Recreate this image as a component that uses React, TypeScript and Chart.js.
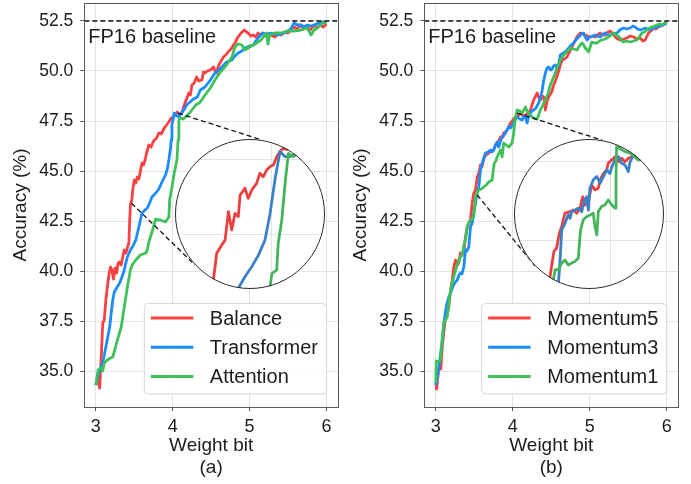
import React, { useEffect, useRef } from 'react';
import { Chart, registerables } from 'chart.js';

Chart.register(...registerables);

type Pt = [number, number];

const FONT = '"Liberation Sans", Arial, Helvetica, sans-serif';
const INK = '#1e1b1c';

// ---------- axes / labels ----------
const xTickValues = [3, 4, 5, 6];
const yTickValues = [35, 37.5, 40, 42.5, 45, 47.5, 50, 52.5];
const X_MIN = 2.85;
const X_MAX = 6.15;
const Y_MIN = 33.2;
const Y_MAX = 53.4;
const baselineValue = 52.5;
const baselineLabel = 'FP16 baseline';
const xTitle = 'Weight bit';
const yTitle = 'Accuracy (%)';
const labelsA = ['Balance', 'Transformer', 'Attention'];
const labelsB = ['Momentum5', 'Momentum3', 'Momentum1'];
const captionA = '(a)';
const captionB = '(b)';

const lineColors = ['#f94141', '#1b8cfb', '#3fc15a'];
const insetColors = ['#ea4140', '#3b7fc7', '#46b55a'];

// ---------- panel (a) ----------
const balance: Pt[] = [
  [3.0, 34.3], [3.03, 34.6], [3.05, 34.15], [3.064, 35.2], [3.08, 36.5], [3.09, 37.4], [3.11, 37.55], [3.13, 38.55],
  [3.15, 39.2], [3.17, 39.8], [3.19, 40.2], [3.21, 40.05], [3.23, 39.6], [3.25, 40.15], [3.27, 39.9], [3.29, 40.4],
  [3.31, 40.45], [3.33, 40.3], [3.35, 40.7], [3.37, 41.05], [3.39, 40.9], [3.41, 41.15], [3.43, 41.4], [3.44, 42.5],
  [3.45, 43.3], [3.47, 43.6], [3.48, 44.05], [3.5, 44.55], [3.52, 44.4], [3.54, 44.7], [3.56, 44.6], [3.575, 44.9],
  [3.6, 45.4], [3.62, 45.3], [3.64, 45.55], [3.66, 45.9], [3.69, 46.3], [3.72, 46.2], [3.75, 46.5], [3.79, 46.65],
  [3.82, 46.9], [3.85, 46.85], [3.89, 47.15], [3.92, 47.3], [3.95, 47.45], [3.98, 47.65], [4.01, 47.7], [4.06, 47.95],
  [4.09, 47.8], [4.12, 47.9], [4.15, 48.3], [4.18, 48.6], [4.21, 48.9], [4.23, 48.8], [4.25, 49.3], [4.28, 49.4],
  [4.31, 49.7], [4.34, 49.5], [4.38, 49.55], [4.4, 49.95], [4.42, 49.9], [4.45, 50.0], [4.49, 50.05], [4.53, 50.2],
  [4.555, 49.95], [4.57, 49.9], [4.6, 50.3], [4.63, 50.5], [4.66, 50.7], [4.69, 50.8], [4.72, 50.95], [4.76, 51.1],
  [4.79, 51.3], [4.81, 51.4], [4.85, 51.7], [4.89, 51.9], [4.93, 52.05], [4.96, 51.95], [4.98, 51.9], [5.02, 51.75],
  [5.05, 51.8], [5.08, 51.7], [5.11, 51.9], [5.14, 51.8], [5.17, 51.9], [5.2, 51.75], [5.24, 51.7], [5.28, 51.8],
  [5.33, 51.7], [5.37, 51.85], [5.41, 51.8], [5.45, 51.95], [5.5, 51.9], [5.54, 52.05], [5.58, 52.2], [5.62, 52.1],
  [5.66, 52.3], [5.7, 52.1], [5.75, 52.2], [5.79, 52.05], [5.84, 52.3], [5.88, 52.15], [5.92, 52.3], [5.96, 52.2],
  [6.0, 52.35],
];
const transformer: Pt[] = [
  [3.0, 34.3], [3.03, 34.8], [3.05, 35.0], [3.07, 35.2], [3.09, 35.4], [3.11, 35.8], [3.13, 36.2], [3.155, 36.7],
  [3.18, 37.2], [3.2, 37.9], [3.22, 38.55], [3.24, 38.95], [3.27, 39.15], [3.31, 39.4], [3.34, 39.7], [3.37, 40.05],
  [3.39, 40.4], [3.41, 40.7], [3.45, 41.05], [3.49, 41.3], [3.52, 41.55], [3.56, 42.2], [3.6, 42.9], [3.64, 43.05],
  [3.67, 43.15], [3.7, 43.4], [3.73, 43.7], [3.78, 43.9], [3.82, 44.1], [3.86, 44.45], [3.905, 44.8], [3.93, 45.1],
  [3.95, 45.55], [3.97, 46.1], [3.98, 46.55], [3.99, 47.3], [4.02, 47.9], [4.04, 47.8], [4.08, 47.7], [4.11, 47.9],
  [4.145, 48.05], [4.18, 48.3], [4.21, 48.4], [4.24, 48.5], [4.27, 48.6], [4.32, 48.7], [4.36, 49.05], [4.42, 49.2],
  [4.46, 49.4], [4.49, 49.55], [4.55, 49.9], [4.6, 50.05], [4.64, 50.2], [4.7, 50.45], [4.77, 50.55], [4.81, 50.75],
  [4.85, 50.9], [4.9, 51.0], [4.94, 51.15], [5.0, 51.25], [5.05, 51.3], [5.08, 51.5], [5.11, 51.65], [5.17, 51.9],
  [5.22, 51.85], [5.28, 51.9], [5.33, 51.85], [5.37, 51.8], [5.41, 51.85], [5.45, 51.9], [5.52, 52.05], [5.55, 52.2],
  [5.58, 52.4], [5.62, 52.3], [5.67, 52.3], [5.71, 52.2], [5.75, 52.3], [5.8, 52.25], [5.84, 52.3], [5.9, 52.4],
  [5.95, 52.45], [6.0, 52.4],
];
const attention: Pt[] = [
  [3.0, 34.3], [3.03, 35.05], [3.05, 35.1], [3.07, 35.15], [3.09, 35.0], [3.11, 35.4], [3.15, 35.55], [3.19, 35.65],
  [3.22, 35.7], [3.25, 36.1], [3.28, 36.55], [3.33, 37.2], [3.37, 38.2], [3.41, 39.2], [3.45, 40.05], [3.48, 40.35],
  [3.52, 40.55], [3.58, 40.8], [3.65, 40.9], [3.67, 41.05], [3.69, 41.45], [3.73, 41.95], [3.78, 42.6], [3.81, 42.55],
  [3.84, 42.55], [3.905, 42.45], [3.95, 42.7], [3.96, 43.55], [3.99, 44.2], [4.02, 44.9], [4.055, 45.55], [4.07, 46.55],
  [4.08, 47.55], [4.1, 47.65], [4.13, 47.6], [4.17, 47.7], [4.23, 47.95], [4.3, 48.3], [4.36, 48.45], [4.42, 48.8],
  [4.49, 49.15], [4.55, 49.55], [4.62, 49.95], [4.7, 50.3], [4.77, 50.7], [4.81, 51.2], [4.85, 51.35], [4.9, 51.3],
  [4.94, 51.05], [5.0, 51.2], [5.07, 51.35], [5.15, 51.55], [5.22, 51.9], [5.24, 51.35], [5.26, 51.8], [5.33, 51.9],
  [5.41, 51.9], [5.5, 52.0], [5.58, 52.0], [5.67, 52.05], [5.75, 52.15], [5.8, 51.8], [5.84, 52.05], [5.88, 52.15],
  [5.925, 52.3], [5.97, 52.45], [6.0, 52.4],
];

// zoomed-in (circular inset) curves of panel (a)
const insetBalance: Pt[] = [
  [3.794, 43.07], [3.805, 43.47], [3.816, 44.36], [3.833, 44.64], [3.844, 44.8], [3.855, 45.75], [3.866, 45.14],
  [3.877, 45.69], [3.888, 45.58], [3.894, 46.3], [3.91, 46.53], [3.921, 46.19], [3.933, 46.47], [3.949, 46.69],
  [3.96, 47.03], [3.971, 46.91], [3.983, 47.14], [3.994, 47.25], [4.005, 47.3], [4.016, 47.58], [4.027, 47.75],
  [4.038, 47.86], [4.05, 47.82], [4.06, 47.88], [4.075, 47.9], [4.1, 48.0], [4.15, 48.3],
];
const insetTransformer: Pt[] = [
  [3.874, 42.94], [3.888, 43.19], [3.91, 43.58], [3.933, 43.91], [3.955, 44.3], [3.977, 44.8], [3.994, 45.69],
  [4.01, 46.8], [4.027, 47.75], [4.044, 47.58], [4.06, 47.58], [4.071, 47.64], [4.094, 47.74], [4.15, 48.0],
];
const insetAttention: Pt[] = [
  [3.99, 42.94], [3.994, 43.25], [4.0, 43.69], [4.016, 43.8], [4.021, 44.69], [4.033, 45.47], [4.044, 46.69],
  [4.05, 47.25], [4.055, 47.69], [4.071, 47.58], [4.094, 47.74], [4.15, 48.0],
];

// ---------- panel (b) ----------
const momentum5: Pt[] = [
  [3.0, 34.4], [3.01, 34.1], [3.04, 35.2], [3.065, 35.1], [3.083, 36.2], [3.105, 37.0], [3.126, 37.7], [3.15, 37.9],
  [3.169, 38.2], [3.19, 39.0], [3.213, 39.55], [3.233, 40.2], [3.256, 40.55], [3.28, 40.3], [3.298, 40.4], [3.32, 40.9],
  [3.34, 40.8], [3.363, 40.95], [3.385, 41.7], [3.407, 42.2], [3.43, 42.4], [3.45, 42.55], [3.472, 43.4], [3.493, 43.9],
  [3.515, 44.05], [3.537, 44.7], [3.558, 44.9], [3.58, 45.3], [3.6, 45.2], [3.623, 45.65], [3.65, 45.8], [3.687, 45.9],
  [3.72, 46.0], [3.752, 46.05], [3.775, 46.3], [3.796, 46.4], [3.82, 46.5], [3.839, 46.7], [3.86, 46.65], [3.882, 46.9],
  [3.905, 46.95], [3.926, 47.05], [3.95, 47.25], [3.969, 47.4], [4.0, 47.55], [4.034, 47.7], [4.065, 47.75], [4.099, 47.9],
  [4.13, 47.75], [4.164, 47.8], [4.2, 47.9], [4.228, 48.05], [4.25, 48.3], [4.271, 48.55], [4.29, 48.7], [4.315, 48.9],
  [4.335, 48.7], [4.358, 48.55], [4.38, 48.75], [4.401, 48.7], [4.423, 48.05], [4.445, 48.5], [4.466, 48.7], [4.49, 48.85],
  [4.51, 49.0], [4.53, 49.3], [4.553, 49.5], [4.575, 49.75], [4.595, 50.0], [4.617, 50.3], [4.64, 50.55], [4.67, 50.6],
  [4.704, 50.7], [4.735, 50.95], [4.769, 51.2], [4.8, 51.45], [4.834, 51.7], [4.855, 51.8], [4.877, 51.9], [4.91, 51.85],
  [4.942, 51.8], [4.975, 51.75], [5.006, 51.7], [5.04, 51.75], [5.071, 51.7], [5.1, 51.8], [5.136, 51.9], [5.17, 51.8],
  [5.201, 51.8], [5.235, 51.95], [5.266, 52.0], [5.3, 51.85], [5.331, 51.7], [5.36, 51.6], [5.395, 51.55], [5.44, 51.6],
  [5.482, 51.65], [5.525, 51.75], [5.568, 51.7], [5.61, 51.6], [5.655, 51.65], [5.69, 51.5], [5.72, 51.55], [5.763, 51.9],
  [5.795, 52.0], [5.828, 52.15], [5.86, 52.1], [5.892, 52.2], [5.925, 52.25], [5.957, 52.3], [6.0, 52.45],
];
const momentum3: Pt[] = [
  [3.0, 34.3], [3.02, 34.7], [3.04, 35.2], [3.06, 35.8], [3.08, 36.4], [3.1, 37.2], [3.12, 37.8], [3.14, 38.3],
  [3.169, 38.7], [3.2, 39.0], [3.23, 39.3], [3.255, 39.45], [3.278, 39.55], [3.3, 39.8], [3.32, 39.9], [3.34, 39.85],
  [3.363, 40.2], [3.385, 41.05], [3.405, 41.0], [3.428, 41.2], [3.45, 42.2], [3.472, 42.4], [3.493, 42.9], [3.515, 43.4],
  [3.537, 43.9], [3.558, 44.2], [3.58, 45.05], [3.602, 45.4], [3.623, 45.6], [3.645, 45.9], [3.68, 45.95], [3.71, 46.05],
  [3.73, 45.95], [3.752, 46.05], [3.775, 46.3], [3.796, 46.45], [3.817, 46.2], [3.84, 46.5], [3.861, 46.7], [3.88, 46.75],
  [3.904, 46.9], [3.925, 47.05], [3.947, 47.2], [3.97, 47.15], [3.991, 47.3], [4.02, 47.5], [4.056, 47.7], [4.09, 47.6],
  [4.121, 47.55], [4.145, 47.75], [4.164, 47.7], [4.186, 47.4], [4.205, 47.75], [4.228, 47.9], [4.25, 48.0], [4.271, 48.05],
  [4.3, 48.15], [4.336, 48.4], [4.36, 48.7], [4.38, 49.0], [4.4, 49.5], [4.423, 49.9], [4.445, 50.15], [4.466, 50.2],
  [4.49, 50.05], [4.51, 50.1], [4.53, 50.25], [4.553, 50.3], [4.575, 50.2], [4.595, 50.25], [4.617, 50.8], [4.66, 50.9],
  [4.704, 51.05], [4.745, 51.25], [4.79, 51.4], [4.82, 51.55], [4.855, 51.7], [4.89, 51.85], [4.92, 51.9], [4.94, 51.7],
  [4.964, 51.55], [4.985, 51.65], [5.006, 51.7], [5.04, 51.75], [5.071, 51.8], [5.1, 51.75], [5.136, 51.7], [5.17, 51.85],
  [5.201, 51.9], [5.235, 51.8], [5.266, 51.8], [5.31, 51.85], [5.353, 51.9], [5.39, 52.05], [5.438, 52.15], [5.48, 52.1],
  [5.525, 52.15], [5.56, 52.25], [5.59, 52.2], [5.62, 52.1], [5.655, 52.05], [5.69, 52.1], [5.72, 52.15], [5.75, 52.1],
  [5.785, 52.05], [5.83, 52.15], [5.872, 52.2], [5.91, 52.25], [5.95, 52.3], [6.0, 52.4],
];
const momentum1: Pt[] = [
  [3.0, 34.4], [3.005, 35.5], [3.03, 35.45], [3.06, 35.55], [3.08, 36.5], [3.104, 37.4], [3.125, 37.55], [3.148, 37.7],
  [3.17, 38.4], [3.191, 39.05], [3.21, 39.4], [3.233, 39.7], [3.26, 40.1], [3.298, 40.55], [3.32, 40.7], [3.342, 40.8],
  [3.365, 41.3], [3.385, 41.55], [3.407, 42.2], [3.43, 42.45], [3.45, 42.55], [3.47, 42.6], [3.493, 42.7], [3.515, 43.7],
  [3.535, 43.9], [3.558, 44.05], [3.59, 44.1], [3.623, 44.2], [3.655, 44.3], [3.687, 44.45], [3.71, 44.5], [3.731, 44.55],
  [3.745, 45.0], [3.76, 45.4], [3.78, 45.5], [3.796, 45.7], [3.82, 45.9], [3.839, 46.05], [3.861, 45.7], [3.882, 46.4],
  [3.915, 46.3], [3.947, 46.2], [3.97, 46.3], [3.991, 46.4], [4.012, 46.9], [4.03, 47.6], [4.056, 48.05], [4.09, 48.0],
  [4.121, 47.9], [4.145, 48.05], [4.164, 48.2], [4.186, 48.0], [4.206, 47.9], [4.23, 47.8], [4.25, 47.7], [4.28, 47.65],
  [4.315, 47.6], [4.335, 47.8], [4.358, 48.05], [4.39, 48.3], [4.423, 48.55], [4.455, 48.85], [4.488, 49.3], [4.52, 49.6],
  [4.553, 49.9], [4.575, 50.2], [4.61, 50.5], [4.66, 50.8], [4.7, 50.95], [4.747, 51.15], [4.79, 51.1], [4.834, 51.05],
  [4.865, 51.25], [4.899, 51.4], [4.92, 51.3], [4.942, 51.15], [4.964, 51.05], [4.984, 50.95], [5.005, 51.2], [5.028, 51.45],
  [5.06, 51.4], [5.093, 51.4], [5.125, 51.5], [5.158, 51.55], [5.2, 51.6], [5.244, 51.7], [5.275, 51.8], [5.309, 51.9],
  [5.35, 51.8], [5.395, 51.65], [5.418, 51.5], [5.438, 51.45], [5.48, 51.5], [5.525, 51.45], [5.57, 51.5], [5.612, 51.55],
  [5.645, 51.7], [5.677, 51.9], [5.71, 51.95], [5.742, 52.05], [5.775, 52.15], [5.807, 52.2], [5.84, 52.25], [5.872, 52.3],
  [5.905, 52.35], [5.936, 52.3], [5.97, 52.4], [6.0, 52.45],
];

// zoomed-in (circular inset) curves of panel (b)
const insetMomentum5: Pt[] = [
  [3.789, 43.44], [3.798, 43.86], [3.811, 44.66], [3.82, 44.76], [3.829, 45.24], [3.837, 45.45], [3.848, 45.87],
  [3.865, 45.92], [3.876, 45.97], [3.887, 45.87], [3.898, 46.03], [3.907, 46.39], [3.915, 46.13], [3.926, 46.24],
  [3.937, 46.76], [3.948, 46.61], [3.959, 46.66], [3.965, 46.92], [3.976, 47.13], [3.987, 47.24], [3.992, 47.45],
  [4.004, 47.56], [4.015, 47.66], [4.026, 47.5], [4.037, 47.61], [4.048, 47.5], [4.059, 47.61], [4.07, 47.66],
  [4.081, 47.66], [4.092, 47.56], [4.13, 47.7],
];
const insetMomentum3: Pt[] = [
  [3.82, 43.44], [3.826, 43.65], [3.831, 44.28], [3.837, 45.34], [3.848, 45.55], [3.859, 45.82], [3.865, 45.71],
  [3.87, 45.92], [3.881, 45.97], [3.892, 46.03], [3.904, 45.92], [3.911, 46.24], [3.92, 46.39], [3.926, 45.97],
  [3.931, 46.66], [3.942, 46.92], [3.954, 47.03], [3.965, 46.82], [3.976, 47.03], [3.987, 47.24], [3.998, 47.13],
  [4.004, 47.34], [4.015, 47.56], [4.026, 47.66], [4.037, 47.45], [4.048, 47.4], [4.059, 47.19], [4.065, 47.5],
  [4.076, 47.71], [4.092, 47.56], [4.13, 47.7],
];
const insetMomentum1: Pt[] = [
  [3.804, 43.44], [3.809, 43.76], [3.815, 44.08], [3.826, 44.08], [3.837, 44.29], [3.848, 44.39], [3.859, 44.23],
  [3.87, 44.29], [3.881, 44.34], [3.892, 44.44], [3.9, 45.34], [3.909, 45.66], [3.92, 45.76], [3.931, 45.81],
  [3.942, 45.87], [3.948, 45.45], [3.954, 45.18], [3.959, 45.92], [3.97, 46.08], [3.981, 46.13], [3.992, 46.29],
  [4.004, 46.13], [4.015, 46.03], [4.018, 47.03], [4.02, 47.98], [4.031, 47.92], [4.048, 47.82], [4.065, 47.77],
  [4.081, 47.66], [4.092, 47.56], [4.13, 47.7],
];

// inset axes ranges and grid ticks
const insetRangeA = { xMin: 3.677, xMax: 4.177, yMin: 43.17, yMax: 48.17 };
const insetRangeB = { xMin: 3.678, xMax: 4.178, yMin: 43.47, yMax: 48.22 };
const insetXTicks = [4.0];
const insetYTicks = [45.0, 47.5];

// ---------- layout ----------
const H = 484;
const AREA_LEFT = 84.3;
const AREA_TOP = 3;
const AREA_BOTTOM = 407;
const INSET_R = 75;

interface PanelSpec {
  left: number;
  width: number;
  padRight: number;
  series: Pt[][];
  labels: string[];
  caption: string;
  inset: Pt[][];
  insetRange: { xMin: number; xMax: number; yMin: number; yMax: number };
  insetCenter: [number, number]; // page coords
  connectors: { from: Pt; angle: number }[];
}

function mainConfig(p: PanelSpec): any {
  const datasets: any[] = p.series.map((s, i) => ({
    label: p.labels[i],
    data: s.map(([x, y]) => ({ x, y })),
    borderColor: lineColors[i],
    backgroundColor: lineColors[i],
    borderWidth: 2.8,
    pointRadius: 0,
    tension: 0,
    fill: false,
    borderJoinStyle: 'round',
    order: 3 - i,
  }));
  datasets.push({
    label: baselineLabel,
    data: [
      { x: X_MIN, y: baselineValue },
      { x: X_MAX, y: baselineValue },
    ],
    borderColor: '#111',
    borderWidth: 1.3,
    borderDash: [5, 3],
    pointRadius: 0,
    fill: false,
    order: 0,
  });

  const cx = p.insetCenter[0] - p.left;
  const cy = p.insetCenter[1];

  const decor = {
    id: 'decor',
    afterDatasetsDraw(chart: any) {
      const { ctx, chartArea: ca, scales } = chart;
      ctx.save();
      // frame
      ctx.strokeStyle = '#5a5a5a';
      ctx.lineWidth = 1;
      ctx.strokeRect(Math.round(ca.left) + 0.5, Math.round(ca.top) + 0.5, Math.round(ca.right - ca.left), Math.round(ca.bottom - ca.top));
      // connectors
      ctx.setLineDash([5, 3]);
      ctx.strokeStyle = '#111';
      ctx.lineWidth = 1.3;
      for (const c of p.connectors) {
        const sx = scales.x.getPixelForValue(c.from[0]);
        const sy = scales.y.getPixelForValue(c.from[1]);
        const a = (c.angle * Math.PI) / 180;
        ctx.beginPath();
        ctx.moveTo(sx, sy);
        ctx.lineTo(cx + INSET_R * Math.cos(a), cy + INSET_R * Math.sin(a));
        ctx.stroke();
      }
      ctx.setLineDash([]);
      // baseline label
      ctx.fillStyle = INK;
      ctx.font = `20px ${FONT}`;
      ctx.textAlign = 'left';
      ctx.textBaseline = 'alphabetic';
      ctx.fillText(baselineLabel, ca.left + 4, ca.top + 40);
      // caption
      ctx.font = `19px ${FONT}`;
      ctx.textAlign = 'center';
      ctx.textBaseline = 'middle';
      ctx.fillText(p.caption, (ca.left + ca.right) / 2, 468);
      ctx.restore();
    },
    afterDraw(chart: any) {
      const { ctx, chartArea: ca } = chart;
      ctx.save();
      ctx.font = `20px ${FONT}`;
      const tw = Math.max(...p.labels.map((l) => ctx.measureText(l).width));
      const w = 6.5 + 42.5 + 16.5 + tw + 8.5;
      const h = 90.6;
      const right = ca.right - 11.5;
      const bottom = ca.bottom - 13;
      const left = right - w;
      const top = bottom - h;
      ctx.beginPath();
      if ((ctx as any).roundRect) (ctx as any).roundRect(left, top, w, h, 4);
      else ctx.rect(left, top, w, h);
      ctx.fillStyle = 'rgba(255,255,255,0.85)';
      ctx.fill();
      ctx.strokeStyle = '#d6d6d6';
      ctx.lineWidth = 1;
      ctx.stroke();
      p.labels.forEach((lab, i) => {
        const y = top + 14.6 + i * 29.3;
        ctx.beginPath();
        ctx.moveTo(left + 6.5, y);
        ctx.lineTo(left + 49, y);
        ctx.strokeStyle = lineColors[i];
        ctx.lineWidth = 3;
        ctx.stroke();
        ctx.fillStyle = INK;
        ctx.textAlign = 'left';
        ctx.textBaseline = 'middle';
        ctx.fillText(lab, left + 65.5, y + 1);
      });
      ctx.restore();
    },
  };

  return {
    type: 'line',
    data: { datasets },
    options: {
      animation: false,
      responsive: false,
      maintainAspectRatio: false,
      devicePixelRatio: 1,
      events: [],
      layout: { padding: { left: 0, top: AREA_TOP, right: p.padRight, bottom: 0 } },
      plugins: { legend: { display: false }, tooltip: { enabled: false }, title: { display: false } },
      scales: {
        x: {
          type: 'linear',
          min: X_MIN,
          max: X_MAX,
          afterBuildTicks: (s: any) => {
            s.ticks = xTickValues.map((v) => ({ value: v }));
          },
          afterFit: (s: any) => {
            s.height = H - AREA_BOTTOM;
            s.paddingLeft = 0;
            s.paddingRight = 0;
          },
          ticks: {
            font: { family: FONT, size: 18 },
            color: INK,
            padding: 5,
            maxRotation: 0,
            autoSkip: false,
            callback: (v: any) => String(v),
          },
          grid: { color: '#e3e3e3', lineWidth: 1, tickLength: 4, tickColor: '#5a5a5a' },
          border: { display: false },
          title: {
            display: true,
            text: xTitle,
            color: INK,
            font: { family: FONT, size: 19 },
            padding: { top: 0, bottom: 27 },
          },
        },
        y: {
          type: 'linear',
          min: Y_MIN,
          max: Y_MAX,
          afterBuildTicks: (s: any) => {
            s.ticks = yTickValues.map((v) => ({ value: v }));
          },
          afterFit: (s: any) => {
            s.width = AREA_LEFT;
            s.paddingTop = 0;
            s.paddingBottom = 0;
          },
          ticks: {
            font: { family: FONT, size: 17.5 },
            color: INK,
            padding: 7,
            autoSkip: false,
            callback: (v: any) => Number(v).toFixed(1),
          },
          grid: { color: '#e3e3e3', lineWidth: 1, tickLength: 4, tickColor: '#5a5a5a' },
          border: { display: false },
          title: {
            display: true,
            text: yTitle,
            color: INK,
            font: { family: FONT, size: 19 },
            padding: { top: 9, bottom: 0 },
          },
        },
      },
    },
    plugins: [decor],
  };
}

function insetConfig(p: PanelSpec): any {
  const r = p.insetRange;
  return {
    type: 'line',
    data: {
      datasets: p.inset.map((s, i) => ({
        label: p.labels[i],
        data: s.map(([x, y]) => ({ x, y })),
        borderColor: insetColors[i],
        borderWidth: 2.8,
        pointRadius: 0,
        tension: 0,
        fill: false,
        borderJoinStyle: 'round',
        order: 3 - i,
      })),
    },
    options: {
      animation: false,
      responsive: false,
      maintainAspectRatio: false,
      devicePixelRatio: 1,
      events: [],
      layout: { padding: 0 },
      plugins: { legend: { display: false }, tooltip: { enabled: false } },
      scales: {
        x: {
          type: 'linear',
          min: r.xMin,
          max: r.xMax,
          afterBuildTicks: (s: any) => {
            s.ticks = insetXTicks.map((v) => ({ value: v }));
          },
          afterFit: (s: any) => {
            s.height = 0;
            s.paddingLeft = 0;
            s.paddingRight = 0;
          },
          ticks: { display: false },
          grid: { color: '#e3e3e3', lineWidth: 1, drawTicks: false },
          border: { display: false },
        },
        y: {
          type: 'linear',
          min: r.yMin,
          max: r.yMax,
          afterBuildTicks: (s: any) => {
            s.ticks = insetYTicks.map((v) => ({ value: v }));
          },
          afterFit: (s: any) => {
            s.width = 0;
            s.paddingTop = 0;
            s.paddingBottom = 0;
          },
          ticks: { display: false },
          grid: { color: '#e3e3e3', lineWidth: 1, drawTicks: false },
          border: { display: false },
        },
      },
    },
  };
}

function Panel({ spec }: { spec: PanelSpec }) {
  const mainRef = useRef<HTMLCanvasElement>(null);
  const insetRef = useRef<HTMLCanvasElement>(null);
  useEffect(() => {
    const main = new Chart(mainRef.current as HTMLCanvasElement, mainConfig(spec));
    const inset = new Chart(insetRef.current as HTMLCanvasElement, insetConfig(spec));
    return () => {
      main.destroy();
      inset.destroy();
    };
  }, []);
  const d = INSET_R * 2;
  const il = spec.insetCenter[0] - INSET_R;
  const it = spec.insetCenter[1] - INSET_R;
  return (
    <>
      <canvas
        ref={mainRef}
        width={spec.width}
        height={H}
        style={{ position: 'absolute', left: spec.left, top: 0, width: spec.width, height: H }}
      />
      <div
        style={{
          position: 'absolute',
          left: il,
          top: it,
          width: d,
          height: d,
          borderRadius: '50%',
          overflow: 'hidden',
          background: '#fff',
        }}
      >
        <canvas ref={insetRef} width={d} height={d} style={{ display: 'block', width: d, height: d }} />
      </div>
      <div
        style={{
          position: 'absolute',
          left: il,
          top: it,
          width: d,
          height: d,
          borderRadius: '50%',
          border: '1px solid #2a2a2a',
          boxSizing: 'border-box',
          pointerEvents: 'none',
        }}
      />
    </>
  );
}

const specA: PanelSpec = {
  left: 0,
  width: 340,
  padRight: 2,
  series: [balance, transformer, attention],
  labels: labelsA,
  caption: captionA,
  inset: [insetBalance, insetTransformer, insetAttention],
  insetRange: insetRangeA,
  insetCenter: [250, 214],
  connectors: [
    { from: [4.069, 47.89], angle: -81 },
    { from: [3.464, 43.39], angle: 137 },
  ],
};

const specB: PanelSpec = {
  left: 340,
  width: 351,
  padRight: 12.7,
  series: [momentum5, momentum3, momentum1],
  labels: labelsB,
  caption: captionB,
  inset: [insetMomentum5, insetMomentum3, insetMomentum1],
  insetRange: insetRangeB,
  insetCenter: [589, 214],
  connectors: [
    { from: [4.056, 47.89], angle: -80 },
    { from: [3.537, 43.8], angle: 136 },
  ],
};

export default function App() {
  return (
    <div style={{ position: 'absolute', left: 0, top: 0, width: 691, height: H, background: '#fff', overflow: 'hidden' }}>
      <Panel spec={specA} />
      <Panel spec={specB} />
    </div>
  );
}
